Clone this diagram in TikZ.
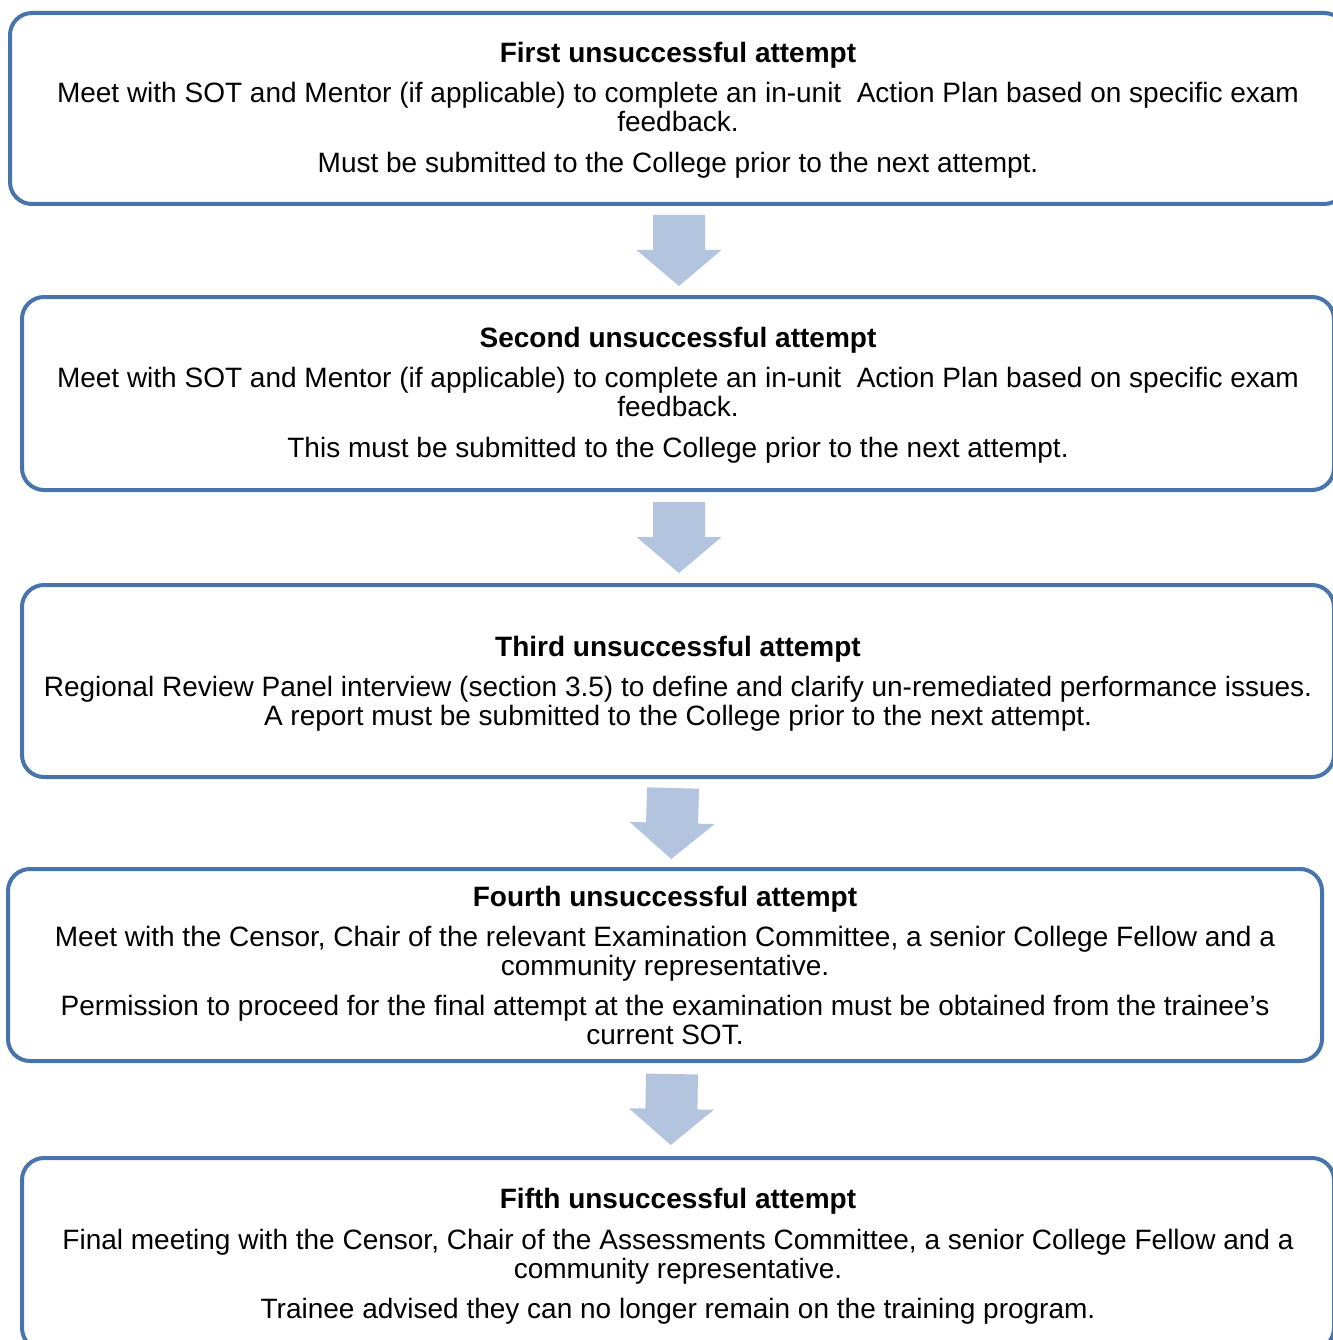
\documentclass[tikz,border=0pt]{standalone}
\usepackage{fontspec}
\setmainfont{Liberation Sans}
\definecolor{boxblue}{RGB}{72,116,172}
\definecolor{arrowblue}{RGB}{179,196,222}
\begin{document}
\begin{tikzpicture}[x=1pt,y=-1pt,
  box/.style={draw=boxblue, line width=4pt, rounded corners=22pt, fill=white, inner sep=0pt},
  txt/.style={align=center, inner sep=0pt, font=\fontsize{28}{29}\selectfont},
  blockarrow/.pic={\fill[arrowblue] (-26,0) -- (26,0) -- (26,35) -- (42.5,35) -- (0,71) -- (-42.5,35) -- (-26,35) -- cycle;}
]
\useasboundingbox (0,0) rectangle (1332,1340);
\node[box, minimum width=1336, minimum height=191] (b1) at (678,108.5) {};
\node[box, minimum width=1312, minimum height=193] (b2) at (678,393.5) {};
\node[box, minimum width=1312, minimum height=192] (b3) at (678,681) {};
\node[box, minimum width=1314, minimum height=192] (b4) at (665,965) {};
\node[box, minimum width=1312, minimum height=192] (b5) at (678,1254) {};
\node[txt] (t1) at ([yshift=-2pt]b1.center)
  {\textbf{First unsuccessful attempt}\\[11pt]
   Meet with SOT and Mentor (if applicable) to complete an in-unit\ \ Action Plan based on specific exam\\
   feedback.\\[12pt]
   Must be submitted to the College prior to the next attempt.};
\node[txt] (t2) at ([yshift=-2pt]b2.center)
  {\textbf{Second unsuccessful attempt}\\[11pt]
   Meet with SOT and Mentor (if applicable) to complete an in-unit\ \ Action Plan based on specific exam\\
   feedback.\\[12pt]
   This must be submitted to the College prior to the next attempt.};
\node[txt] (t3) at ([yshift=-2.5pt]b3.center)
  {\textbf{Third unsuccessful attempt}\\[11pt]
   Regional Review Panel interview (section 3.5) to define and clarify un-remediated performance issues.\\
   A report must be submitted to the College prior to the next attempt.};
\node[txt] (t4) at (b4.center)
  {\textbf{Fourth unsuccessful attempt}\\[11pt]
   Meet with the Censor, Chair of the relevant Examination Committee, a senior College Fellow and a\\
   community representative.\\[11pt]
   Permission to proceed for the final attempt at the examination must be obtained from the trainee’s\\
   current SOT.};
\node[txt] (t5) at ([yshift=-2pt]b5.center)
  {\textbf{Fifth unsuccessful attempt}\\[12pt]
   Final meeting with the Censor, Chair of the Assessments Committee, a senior College Fellow and a\\
   community representative.\\[11pt]
   Trainee advised they can no longer remain on the training program.};
\pic at (679,215) {blockarrow};
\pic at (679,502) {blockarrow};
\pic[rotate=-1.5] at (673,788) {blockarrow};
\pic[rotate=-1] at (672,1074) {blockarrow};
\end{tikzpicture}
\end{document}
